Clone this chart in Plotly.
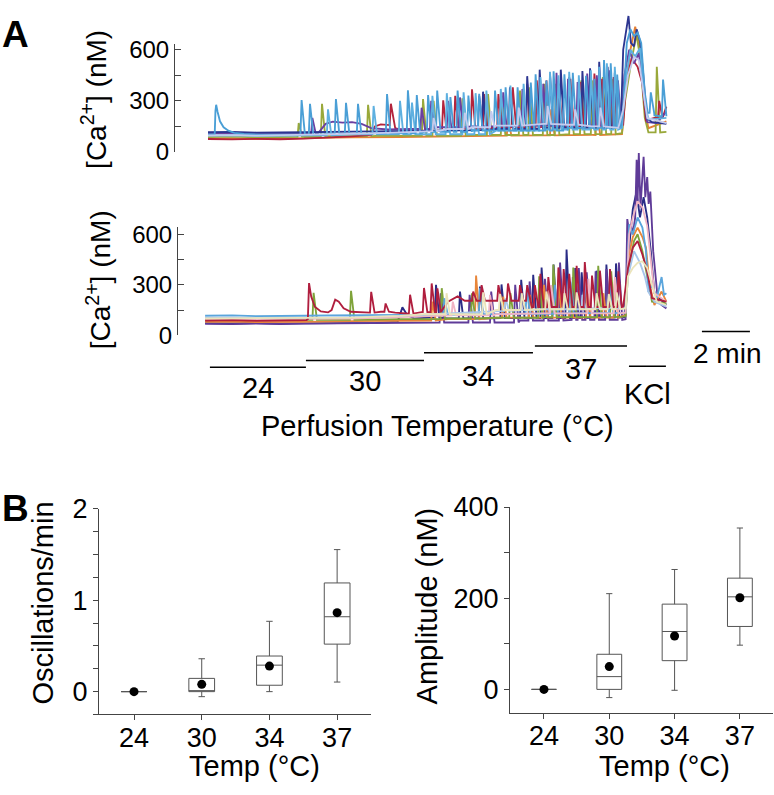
import plotly.graph_objects as go

# ---------------- DATA ----------------
# Panel A: time in minutes from start of recording, [Ca2+] in nM
# Each trace: base/shape vertices (t, nM) and sharp spikes (t, peak nM)
top_lb_base = [(0, 103), (0.28, 104), (0.31, 240), (0.34, 277), (0.4, 235), (0.5, 180), (0.65, 145), (0.85, 125),
               (1.1, 112), (1.5, 106), (2.2, 102), (3.0, 100), (3.8, 101), (5, 106), (7, 110), (9, 118), (11, 126),
               (13, 136), (15, 142), (17.1, 150), (17.3, 260), (17.45, 640), (17.6, 720), (17.75, 680), (17.9, 700),
               (18.05, 640), (18.2, 350), (18.32, 230), (18.6, 215), (18.85, 210), (19.1, 290)]
top_lb_spikes = [(3.9, 305), (4.25, 283), (5.33, 311), (5.75, 289), (6.25, 283), (7.46, 340), (8.33, 362), (8.7, 334),
                 (9.17, 334), (9.55, 360), (10.1, 322), (10.4, 360), (10.85, 331), (11.3, 341), (11.96, 360),
                 (12.4, 380), (12.9, 380), (13.45, 407), (13.65, 456), (14.1, 420), (14.4, 473), (14.85, 456),
                 (15.2, 465), (15.75, 447), (16.1, 430), (16.5, 540), (16.78, 520), (17.05, 455), (18.45, 350),
                 (18.96, 425)]
top_sky_base = [(0, 96), (1, 98), (2, 95), (3, 97), (4, 98), (6, 104), (8, 110), (10, 118), (12, 125), (14, 132),
                (16, 138), (17.25, 142), (17.4, 420), (17.6, 600), (17.8, 560), (18.0, 610), (18.2, 300),
                (18.35, 190), (19.1, 200)]
top_sky_spikes = [(5.0, 250), (6.9, 270), (8.0, 300), (8.5, 290), (9.35, 330), (9.95, 345), (10.65, 350),
                  (11.15, 345), (11.6, 360), (12.2, 370), (12.6, 390), (13.15, 400), (13.85, 440), (14.25, 470),
                  (14.6, 450), (15.05, 470), (15.45, 450), (15.95, 480), (16.3, 500), (16.62, 520), (16.95, 500)]
top_navy_base = [(0, 116), (1, 118), (2, 114), (3, 117), (4, 116), (6, 120), (8, 122), (10, 128), (12, 135), (14, 142),
                 (16, 150), (17.2, 158), (17.3, 600), (17.4, 700), (17.52, 798), (17.62, 640), (17.75, 620),
                 (17.86, 720), (18.0, 650), (18.12, 480), (18.28, 200), (18.5, 175), (19.1, 165)]
top_navy_spikes = [(11.46, 354), (12.58, 380), (13.3, 445), (13.82, 483), (14.25, 456), (14.7, 483), (15.05, 440),
                   (15.6, 475), (15.92, 491), (16.3, 529), (16.65, 500), (16.95, 465)]
top_purple_base = [(0, 110), (1, 108), (2, 111), (3, 109), (4, 108), (4.6, 112), (4.9, 165), (5.2, 178), (5.6, 172),
                   (6.0, 175), (6.4, 165), (6.8, 140), (7.5, 132), (8.5, 135), (9.5, 145), (11, 150), (13, 155),
                   (15, 162), (17.2, 165), (17.35, 450), (17.55, 600), (17.75, 520), (17.95, 580), (18.15, 350),
                   (18.3, 175), (18.7, 170), (19.1, 237)]
top_purple_spikes = [(4.35, 200), (8.9, 260), (9.3, 300), (10.0, 300), (10.5, 320), (11.3, 330), (12.3, 350),
                     (13.1, 370), (13.97, 400), (14.52, 465), (15.0, 430), (15.4, 410), (15.8, 460), (16.2, 450),
                     (16.75, 480), (17.08, 420)]
top_red_base = [(0, 76), (1, 74), (2, 77), (3, 75), (4, 78), (5, 84), (6, 92), (6.8, 100), (6.95, 150), (7.2, 162),
                (7.5, 158), (7.8, 140), (8.3, 120), (9, 125), (10, 138), (12, 145), (14, 152), (16, 155), (17.3, 160),
                (17.42, 400), (17.65, 550), (17.9, 500), (18.1, 400), (18.25, 185), (18.6, 200), (19.1, 266)]
top_red_spikes = [(7.62, 283), (9.8, 303), (10.3, 330), (11.0, 368), (11.5, 340), (12.1, 340), (12.7, 380),
                  (13.3, 400), (13.7, 420), (14.1, 420), (14.62, 400), (15.1, 430), (15.52, 410), (16.1, 460),
                  (16.42, 430), (16.9, 440), (18.8, 300)]
top_olive_base = [(0, 88), (1, 90), (2, 86), (3, 89), (4, 88), (5, 93), (7, 95), (9, 98), (11, 100), (13, 103),
                  (15, 105), (17.25, 110), (17.38, 300), (17.6, 500), (17.85, 690), (18.0, 560), (18.2, 200),
                  (18.35, 115), (19.1, 118)]
top_olive_spikes = [(3.78, 170), (4.75, 283), (6.67, 277), (8.96, 311), (9.4, 300), (10.6, 315), (11.67, 340),
                    (12.25, 330), (13.0, 360), (13.4, 380), (14.0, 400), (14.5, 400), (15.1, 380), (15.55, 420),
                    (16.0, 420), (16.45, 440), (16.85, 430), (18.7, 500)]
top_orange_base = [(0, 78), (1, 80), (2, 76), (3, 79), (4, 80), (5, 83), (6, 86), (8, 88), (10, 92), (12, 96),
                   (14, 98), (16, 100), (17.25, 105), (17.38, 350), (17.6, 600), (17.8, 735), (18.0, 600),
                   (18.2, 250), (18.35, 140), (19.1, 180)]
top_orange_spikes = [(12.5, 200), (14.3, 250), (16.2, 260)]
top_lav_base = [(0, 97), (1, 99), (2, 96), (3, 98), (4, 100), (5, 104), (6.5, 108), (8, 115), (9, 122), (10, 135),
                (11, 145), (12, 155), (13, 160), (14, 165), (15, 160), (16, 150), (17.1, 142), (17.3, 250),
                (17.5, 450), (17.75, 558), (17.95, 540), (18.15, 350), (18.3, 200), (19.1, 170)]
top_lav_spikes = [(9.4, 200), (10.7, 230), (11.8, 240), (12.95, 260), (14.15, 270), (15.3, 250), (16.35, 260)]

bot_red_base = [(-0.12, 88), (1, 90), (2, 86), (3, 89), (4.1, 90), (4.16, 95), (4.21, 310), (4.3, 230), (4.45, 170),
                (4.7, 142), (5.0, 136), (5.15, 150), (5.3, 212), (5.45, 200), (5.65, 160), (5.95, 140), (6.5, 135),
                (7.2, 140), (7.8, 135), (8.2, 128), (8.9, 138), (9.6, 165), (10.0, 200), (10.4, 231), (10.7, 205),
                (11.5, 190), (12.5, 170), (13.5, 168), (15, 170), (17.3, 170), (17.5, 400), (17.7, 520),
                (17.9, 560), (18.1, 480), (18.3, 380), (18.5, 220), (19.1, 200)]
bot_red_spikes = [(6.8, 258), (7.4, 189), (8.42, 241), (9.0, 281), (9.32, 308), (9.56, 279), (11.05, 260),
                  (11.4, 298), (12.1, 298), (12.5, 308), (13.0, 298), (13.3, 298), (13.62, 298), (13.85, 365),
                  (14.18, 346), (14.6, 403), (14.82, 394), (15.05, 365), (15.36, 413), (15.7, 435), (16.0, 355),
                  (16.33, 384), (16.75, 394), (17.1, 380)]
bot_navy_base = [(-0.12, 72), (1, 70), (2, 73), (3, 69), (4, 71), (5, 72), (6, 70), (7, 74), (7.9, 80), (8.1, 166),
                 (8.3, 120), (8.6, 100), (9.2, 105), (10, 100), (12, 102), (14, 104), (16, 106), (17.35, 108),
                 (17.5, 450), (17.7, 750), (17.85, 850), (18.0, 700), (18.15, 820), (18.3, 700), (18.45, 500),
                 (18.6, 250), (19.1, 180)]
bot_navy_spikes = [(9.5, 300), (10.5, 260), (11.33, 289), (12.23, 302), (13.05, 330), (13.55, 360), (13.9, 403),
                   (14.4, 420), (14.94, 510), (15.3, 400), (15.57, 374), (16.19, 384), (16.6, 420), (17.0, 427)]
bot_purple_base = [(-0.12, 68), (1, 66), (2, 70), (3, 67), (4, 69), (5, 70), (7, 72), (9, 76), (11, 82), (13, 88),
                   (15, 92), (17.4, 96), (17.47, 690), (17.55, 610), (17.62, 661), (17.7, 600), (17.8, 700),
                   (17.86, 1043), (17.9, 800), (17.95, 1083), (18.02, 760), (18.08, 900), (18.15, 1060),
                   (18.22, 820), (18.3, 940), (18.36, 780), (18.43, 854), (18.55, 500), (18.65, 330), (18.75, 200),
                   (18.9, 180), (19.1, 160)]
bot_purple_spikes = [(9.7, 250), (10.9, 240), (11.8, 260), (12.8, 300), (13.4, 320), (14.04, 336), (14.67, 432),
                     (15.2, 346), (15.45, 400), (15.78, 374), (16.15, 380), (16.6, 394), (17.12, 432)]
bot_lb_base = [(-0.12, 116), (1, 118), (2, 114), (3, 117), (4, 116), (5, 118), (7, 120), (9, 122), (11, 125),
               (13, 128), (15, 132), (17.4, 135), (17.48, 400), (17.55, 660), (17.7, 600), (17.9, 700), (18.1, 640),
               (18.25, 500), (18.35, 258), (18.5, 300), (18.7, 220), (18.9, 346), (19.0, 240), (19.1, 250)]
bot_lb_spikes = [(9.85, 220), (11.33, 280), (13.28, 270), (14.45, 300), (15.1, 318), (16.75, 327)]
bot_olive_base = [(-0.12, 92), (1, 94), (2, 90), (3, 93), (4, 92), (6, 94), (8, 96), (10, 100), (12, 104), (14, 108),
                  (17.4, 112), (17.5, 380), (17.75, 560), (17.9, 600), (18.1, 500), (18.3, 350), (18.5, 200),
                  (19.1, 190)]
bot_olive_spikes = [(4.4, 252), (5.96, 264), (9.74, 280), (11.0, 250), (12.6, 250), (13.8, 350), (14.39, 420),
                    (15.22, 403), (16.26, 413), (16.8, 380)]
bot_orange_base = [(-0.12, 80), (1, 82), (2, 78), (3, 81), (4, 80), (6, 84), (8, 88), (10, 96), (12, 105), (14, 112),
                   (17.4, 120), (17.5, 450), (17.7, 584), (17.9, 640), (18.1, 584), (18.25, 520), (18.4, 300),
                   (18.6, 180), (18.9, 260), (19.1, 200)]
bot_orange_spikes = [(9.35, 200), (11.17, 355), (12.3, 230), (13.42, 240), (14.0, 300), (14.6, 330), (15.08, 260),
                     (15.8, 300), (16.47, 250), (16.95, 330)]
bot_pink_base = [(-0.12, 95), (1, 96), (2, 93), (3, 95), (4, 96), (6, 100), (8, 108), (10, 118), (12, 125), (14, 130),
                 (17.4, 135), (17.45, 300), (17.55, 600), (17.7, 700), (17.9, 796), (18.1, 760), (18.3, 650),
                 (18.45, 450), (18.6, 250), (19.1, 200)]
bot_pink_spikes = [(10.2, 200), (11.75, 240), (14.3, 298), (15.85, 336), (16.96, 346)]
bot_pale_base = [(-0.12, 104), (1, 106), (2, 102), (3, 105), (4, 104), (6, 108), (8, 115), (10, 130), (12, 145),
                 (14, 155), (16, 160), (17.4, 165), (17.5, 350), (17.75, 500), (18.0, 430), (18.2, 350),
                 (18.35, 258), (18.6, 200), (19.1, 170)]
bot_pale_spikes = [(12.4, 220), (15.6, 240)]
bot_cream_base = [(-0.12, 100), (1, 101), (2, 98), (3, 100), (4, 100), (6, 105), (8, 115), (9, 125), (10, 140),
                  (12, 150), (14, 155), (17.4, 160), (17.5, 350), (17.7, 400), (17.9, 430), (18.1, 440), (18.3, 400),
                  (18.5, 300), (18.7, 200), (19.1, 180)]
bot_cream_spikes = [(9.94, 250), (11.47, 255), (12.17, 245), (13.07, 250), (14.1, 260), (14.85, 250), (15.36, 255),
                    (16.19, 250), (16.7, 245), (17.03, 255)]

# Perfusion periods (minutes)
phase_labels = ["24", "30", "34", "37", "KCl"]
phase_start = [0.08, 4.08, 9.0, 13.62, 17.54]
phase_end = [4.08, 9.0, 13.54, 17.46, 19.08]
scale_bar_min = [20.58, 22.58]
scale_label = "2 min"

# Panel B
temps = ["24", "30", "34", "37"]
osc_q1 = [0, 0, 0.07, 0.52]
osc_med = [0, 0, 0.29, 0.82]
osc_q3 = [0, 0.145, 0.39, 1.19]
osc_lo = [0, -0.055, 0, 0.105]
osc_hi = [0, 0.36, 0.77, 1.555]
osc_mean = [0, 0.08, 0.28, 0.865]

amp_q1 = [0, 0, 63, 138]
amp_med = [0, 28, 127, 203]
amp_q3 = [0, 77, 187, 244]
amp_lo = [0, -18, -2, 97]
amp_hi = [0, 210, 263, 354]
amp_mean = [0, 50, 117, 201]

# ---------------- LAYOUT HELPERS ----------------
W, H = 774, 795
FONT = "Liberation Sans, Arial, sans-serif"
AX = "#444444"
TRACE_W = 1.85


def fx(p):
    return p / W


def fy(p):
    return 1 - p / H


RISE, DECAY = 0.05, 0.14


def build(base, spikes):
    wins = [(t - RISE, t + DECAY) for t, _ in spikes]
    kept = [(t, v) for t, v in base if not any(a <= t <= b for a, b in wins)]
    pts = list(kept)
    for t, peak in spikes:
        foot = [v for tb, v in kept if tb <= t][-1]
        pts += [(t - RISE, foot), (t, peak), (t + DECAY, foot)]
    pts.sort()
    return [p[0] for p in pts], [p[1] for p in pts]


fig = go.Figure()

top_traces = [
    (top_orange_base, top_orange_spikes, "#e47f34"),
    (top_olive_base, top_olive_spikes, "#99a83a"),
    (top_red_base, top_red_spikes, "#b3243c"),
    (top_purple_base, top_purple_spikes, "#6b3fa0"),
    (top_navy_base, top_navy_spikes, "#2c3590"),
    (top_sky_base, top_sky_spikes, "#5eb0e0"),
    (top_lb_base, top_lb_spikes, "#4a9fd6"),
    (top_lav_base, top_lav_spikes, "#c4cbee"),
]
for b, s, c in top_traces:
    xs, ys = build(b, s)
    fig.add_trace(go.Scatter(x=xs, y=ys, mode="lines", line=dict(color=c, width=TRACE_W),
                             xaxis="x", yaxis="y", showlegend=False, hoverinfo="skip"))

bot_traces = [
    (bot_navy_base, bot_navy_spikes, "#2a2c86"),
    (bot_purple_base, bot_purple_spikes, "#5f3b98"),
    (bot_orange_base, bot_orange_spikes, "#e8863a"),
    (bot_olive_base, bot_olive_spikes, "#7fa33a"),
    (bot_lb_base, bot_lb_spikes, "#5aa5dc"),
    (bot_pink_base, bot_pink_spikes, "#f0b4c4"),
    (bot_pale_base, bot_pale_spikes, "#a6c5ea"),
    (bot_red_base, bot_red_spikes, "#b01e3e"),
    (bot_cream_base, bot_cream_spikes, "#ebe4bb"),
]
for b, s, c in bot_traces:
    xs, ys = build(b, s)
    fig.add_trace(go.Scatter(x=xs, y=ys, mode="lines", line=dict(color=c, width=TRACE_W),
                             xaxis="x2", yaxis="y3", showlegend=False, hoverinfo="skip"))

# empty traces so the scale axes exist
fig.add_trace(go.Scatter(x=[], y=[], xaxis="x", yaxis="y2", showlegend=False))
fig.add_trace(go.Scatter(x=[], y=[], xaxis="x2", yaxis="y4", showlegend=False))

xpos = list(range(len(temps)))
box_style = dict(line=dict(color="#555555", width=1), fillcolor="white", width=0.38, whiskerwidth=0.25,
                 showlegend=False, hoverinfo="skip", boxpoints=False)
fig.add_trace(go.Box(x=xpos, q1=osc_q1, median=osc_med, q3=osc_q3, lowerfence=osc_lo, upperfence=osc_hi,
                     xaxis="x3", yaxis="y5", **box_style))
fig.add_trace(go.Scatter(x=xpos, y=osc_mean, mode="markers", marker=dict(color="black", size=9),
                         xaxis="x3", yaxis="y5", showlegend=False, hoverinfo="skip"))
fig.add_trace(go.Box(x=xpos, q1=amp_q1, median=amp_med, q3=amp_q3, lowerfence=amp_lo, upperfence=amp_hi,
                     xaxis="x4", yaxis="y6", **box_style))
fig.add_trace(go.Scatter(x=xpos, y=amp_mean, mode="markers", marker=dict(color="black", size=9),
                         xaxis="x4", yaxis="y6", showlegend=False, hoverinfo="skip"))

hidden = dict(visible=False, showgrid=False, zeroline=False, fixedrange=True)
scale_y = dict(showline=True, linecolor=AX, linewidth=1, ticks="inside", ticklen=6, tickcolor=AX,
               tickvals=[0, 300, 600], tickfont=dict(size=24, color="black", family=FONT),
               showgrid=False, zeroline=False,
               minor=dict(tickvals=[150, 450], ticks="inside", ticklen=6, tickcolor=AX))
bx = dict(showline=True, linecolor=AX, linewidth=1, ticks="outside", ticklen=5, tickcolor=AX,
          tickvals=xpos, ticktext=temps, tickfont=dict(size=27, color="black", family=FONT),
          showgrid=False, zeroline=False, ticklabelstandoff=-6)
by = dict(showline=True, linecolor=AX, linewidth=1, ticks="outside", ticklen=5, tickcolor=AX,
          tickfont=dict(size=27, color="black", family=FONT), showgrid=False, zeroline=False)

PXN_TOP = 106 / 600
PXN_BOT = 104.7 / 600

fig.update_layout(
    width=W, height=H, margin=dict(l=0, r=0, t=0, b=0),
    paper_bgcolor="white", plot_bgcolor="rgba(0,0,0,0)",
    font=dict(family=FONT, color="black"),
    xaxis=dict(domain=[fx(175), 1], range=[(175 - 208) / 24, (774 - 208) / 24], anchor="y", **hidden),
    yaxis=dict(domain=[fy(142), 1], range=[0, 142 / PXN_TOP], anchor="x", **hidden),
    yaxis2=dict(domain=[fy(142), fy(30)], range=[0, (142 - 30) / PXN_TOP], anchor="x", **scale_y),
    xaxis2=dict(domain=[fx(178), 1], range=[(178 - 208) / 24, (774 - 208) / 24], anchor="y3", **hidden),
    yaxis3=dict(domain=[fy(332), fy(140)], range=[0, (332 - 140) / PXN_BOT], anchor="x2", **hidden),
    yaxis4=dict(domain=[fy(332), fy(220)], range=[0, (332 - 220) / PXN_BOT], anchor="x2", **scale_y),
    xaxis3=dict(domain=[fx(99), fx(371)], range=[-0.517, 3.5], anchor="y5", **bx),
    yaxis5=dict(domain=[fy(725), fy(512)], range=[-0.25, 2], anchor="x3", tickvals=[0, 1, 2],
                minor=dict(dtick=0.25, tick0=0, ticks="outside", ticklen=5, tickcolor=AX), **by),
    xaxis4=dict(domain=[fx(510), fx(773)], range=[-0.52, 3.507], anchor="y6", **bx),
    yaxis6=dict(domain=[fy(723), fy(510)], range=[-50.8, 400], anchor="x4", tickvals=[0, 200, 400],
                minor=dict(dtick=100, tick0=0, ticks="outside", ticklen=5, tickcolor=AX), **by),
)

# period bars
bar_levels_px = [365, 358, 350, 343, 364]
label_levels_px = [387, 379, 374, 367, 393]
shapes = []
annots = []
for lab, s, e, bl, ll in zip(phase_labels, phase_start, phase_end, bar_levels_px, label_levels_px):
    shapes.append(dict(type="line", xref="x2", yref="paper", x0=s, x1=e, y0=fy(bl), y1=fy(bl),
                       line=dict(color="black", width=1.5)))
    annots.append(dict(text=lab, xref="x2", yref="paper", x=(s + e) / 2, y=fy(ll), showarrow=False,
                       xanchor="center", yanchor="middle", font=dict(size=29, family=FONT, color="black")))
shapes.append(dict(type="line", xref="x2", yref="paper", x0=scale_bar_min[0], x1=scale_bar_min[1],
                   y0=fy(328), y1=fy(328), line=dict(color="black", width=1.5)))
annots.append(dict(text=scale_label, xref="x2", yref="paper", x=sum(scale_bar_min) / 2 + 0.04, y=fy(351),
                   showarrow=False, xanchor="center", yanchor="middle",
                   font=dict(size=28, family=FONT, color="black")))


def pa(text, x, y, size, angle=0, bold=False):
    t = f"<b>{text}</b>" if bold else text
    return dict(text=t, xref="paper", yref="paper", x=fx(x), y=fy(y), showarrow=False, textangle=angle,
                xanchor="center", yanchor="middle", font=dict(size=size, family=FONT, color="black"))


annots += [
    pa("A", 15, 20, 37, bold=True),
    pa("B", 15, 512, 37, bold=True),
    pa("[Ca<sup>2+</sup>] (nM)", 94, 88, 28, angle=-90),
    pa("[Ca<sup>2+</sup>] (nM)", 99, 275, 28, angle=-90),
    pa("Perfusion Temperature (°C)", 437, 426, 29),
    pa("Temp (°C)", 255, 778, 29),
    pa("Temp (°C)", 664, 778, 29),
    pa("Oscillations/min", 43, 610, 29, angle=-90),
    pa("Amplitude (nM)", 427, 613, 29, angle=-90),
]
fig.update_layout(shapes=shapes, annotations=annots)

fig.write_html("out.html", config={"displayModeBar": False},
               post_script="document.body.style.margin='0';")
